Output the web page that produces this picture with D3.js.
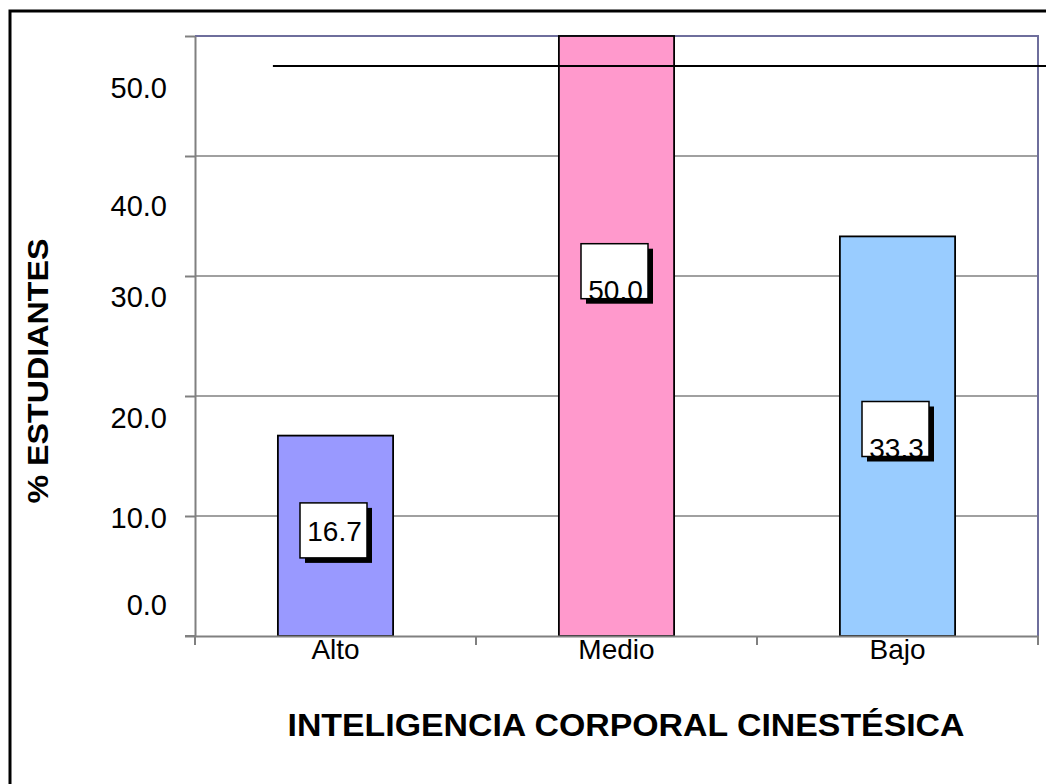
<!DOCTYPE html>
<html>
<head>
<meta charset="utf-8">
<script src="https://cdn.jsdelivr.net/npm/d3@7"></script>
<style>
  body { margin: 0; background: #fff; }
  svg { display: block; font-family: "Liberation Sans", Arial, sans-serif; }
</style>
</head>
<body>
<svg width="1046" height="784"></svg>
<script>
// chart values
const categories = ["Alto", "Medio", "Bajo"];
const values = [16.7, 50.0, 33.3];
const barColors = ["#9999ff", "#ff99cc", "#99ccff"];
const tickValues = [0, 10, 20, 30, 40, 50];
const tickLabels = ["0.0", "10.0", "20.0", "30.0", "40.0", "50.0"];
// where the tick labels sit (in axis units; the original is offset)
const tickLabelAt = [2.6, 9.85, 18.2, 28.25, 35.9, 45.7];
// where each data label box sits (axis units)
const labelAt = [8.8, 30.4, 17.25];
const refLine = 47.5;

const yTitle = "% ESTUDIANTES";
const xTitle = "INTELIGENCIA CORPORAL CINESTÉSICA";

let svg = d3.select("svg");

const plotLeft = 195, plotRight = 1038, plotTop = 36, plotBottom = 636;

let x = d3.scaleBand()
  .domain(categories)
  .range([plotLeft, plotRight])
  .paddingInner(0.59)
  .paddingOuter(0.295);

let band = d3.scaleBand().domain(categories).range([plotLeft, plotRight]);

let y = d3.scaleLinear()
  .domain([0, 50])
  .range([plotBottom, plotTop]);

// outer border
svg.append("rect")
  .attr("x", 10).attr("y", 11)
  .attr("width", 1100).attr("height", 900)
  .attr("fill", "none")
  .attr("stroke", "#000")
  .attr("stroke-width", 3);

// gridlines
svg.append("g")
  .selectAll("line")
  .data(tickValues.slice(1))
  .enter()
  .append("line")
    .attr("x1", plotLeft).attr("x2", plotRight)
    .attr("y1", d => y(d)).attr("y2", d => y(d))
    .attr("stroke", "#808080")
    .attr("stroke-width", 1.5);

// plot border top/right
svg.append("path")
  .attr("d", `M${plotLeft},${plotTop}H${plotRight}V${plotBottom}`)
  .attr("fill", "none")
  .attr("stroke", "#6e6e9c")
  .attr("stroke-width", 2);

// bars
svg.append("g")
  .selectAll("rect")
  .data(values)
  .enter()
  .append("rect")
    .attr("x", (d, i) => x(categories[i]))
    .attr("y", d => y(d))
    .attr("width", x.bandwidth())
    .attr("height", d => y(0) - y(d))
    .attr("fill", (d, i) => barColors[i])
    .attr("stroke", "#000")
    .attr("stroke-width", 1.8);

// y axis
let yAxis = d3.axisLeft(y)
  .tickValues(tickValues)
  .tickSize(10)
  .tickSizeOuter(0)
  .tickFormat("");
let gy = svg.append("g")
  .attr("transform", `translate(${plotLeft},0)`)
  .call(yAxis);
gy.select(".domain").attr("stroke", "#808080").attr("stroke-width", 2);
gy.selectAll(".tick line").attr("stroke", "#808080").attr("stroke-width", 2);

// y tick labels (offset like the original)
svg.append("g")
  .selectAll("text")
  .data(tickLabels)
  .enter()
  .append("text")
    .attr("x", 167)
    .attr("y", (d, i) => y(tickLabelAt[i]))
    .attr("dy", "0.36em")
    .attr("text-anchor", "end")
    .style("font-size", "29px")
    .attr("fill", "#000")
    .text(d => d);

// x axis
let xAxis = d3.axisBottom(band)
  .tickSize(0)
  .tickSizeOuter(0)
  .tickFormat("");
let gx = svg.append("g")
  .attr("transform", `translate(0,${plotBottom})`)
  .call(xAxis);
gx.select(".domain").attr("stroke", "#808080").attr("stroke-width", 2);
gx.append("line")
  .attr("x1", 185).attr("x2", plotLeft)
  .attr("stroke", "#808080").attr("stroke-width", 2);
gx.selectAll(".sep")
  .data(categories.concat(["end"]))
  .enter()
  .append("line")
    .attr("class", "sep")
    .attr("x1", (d, i) => plotLeft + i * band.step())
    .attr("x2", (d, i) => plotLeft + i * band.step())
    .attr("y1", 0).attr("y2", 9)
    .attr("stroke", "#808080").attr("stroke-width", 2);

// category labels
svg.append("g")
  .selectAll("text")
  .data(categories)
  .enter()
  .append("text")
    .attr("x", d => band(d) + band.bandwidth() / 2)
    .attr("y", plotBottom + 23)
    .attr("text-anchor", "middle")
    .style("font-size", "28px")
    .text(d => d);

// stray reference line
svg.append("line")
  .attr("x1", x("Alto") - 5).attr("x2", 1046)
  .attr("y1", y(refLine)).attr("y2", y(refLine))
  .attr("stroke", "#000")
  .attr("stroke-width", 2);

// data labels: white boxes with drop shadow, text clipped
const boxW = 67, boxH = 55;
let defs = svg.append("defs");
values.forEach((v, i) => {
  const cx = x(categories[i]) + x.bandwidth() / 2 - 2;
  const cy = y(labelAt[i]);
  const bx = cx - boxW / 2, by = cy - boxH / 2;
  defs.append("clipPath").attr("id", "clip" + i)
    .append("rect")
      .attr("x", bx).attr("y", by)
      .attr("width", boxW).attr("height", boxH);
  svg.append("rect")
    .attr("x", bx + 5).attr("y", by + 5)
    .attr("width", boxW).attr("height", boxH)
    .attr("fill", "#000");
  svg.append("rect")
    .attr("x", bx).attr("y", by)
    .attr("width", boxW).attr("height", boxH)
    .attr("fill", "#fff")
    .attr("stroke", "#000")
    .attr("stroke-width", 1.5);
  // first label sits centred, the others slip low in their boxes
  const shift = i === 0 ? 1 : 19;
  svg.append("text")
    .attr("clip-path", `url(#clip${i})`)
    .attr("x", cx + 1)
    .attr("y", cy + shift)
    .attr("dy", "0.36em")
    .attr("text-anchor", "middle")
    .style("font-size", "28px")
    .text(v.toFixed(1));
});

// axis titles
svg.append("text")
  .attr("transform", "translate(48,371) rotate(-90)")
  .attr("text-anchor", "middle")
  .style("font-size", "30px")
  .style("font-weight", "bold")
  .attr("textLength", 265)
  .attr("lengthAdjust", "spacingAndGlyphs")
  .text(yTitle);

svg.append("text")
  .attr("x", 626)
  .attr("y", 736)
  .attr("text-anchor", "middle")
  .style("font-size", "31px")
  .style("font-weight", "bold")
  .attr("textLength", 677)
  .attr("lengthAdjust", "spacingAndGlyphs")
  .text(xTitle);
</script>
</body>
</html>
